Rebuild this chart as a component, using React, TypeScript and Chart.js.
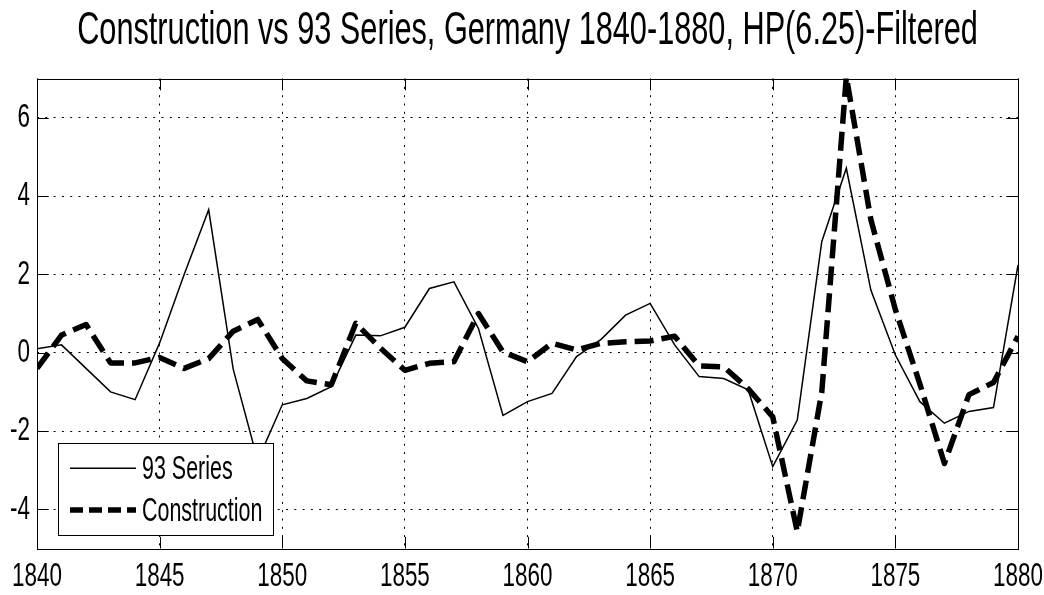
import React, { useEffect, useRef } from 'react';
import { Chart, registerables } from 'chart.js';

Chart.register(...registerables);

const titleText = 'Construction vs 93 Series, Germany 1840-1880, HP(6.25)-Filtered';
const seriesLabels = ['93 Series', 'Construction'];

const years = [
  1840, 1841, 1842, 1843, 1844, 1845, 1846, 1847, 1848, 1849,
  1850, 1851, 1852, 1853, 1854, 1855, 1856, 1857, 1858, 1859,
  1860, 1861, 1862, 1863, 1864, 1865, 1866, 1867, 1868, 1869,
  1870, 1871, 1872, 1873, 1874, 1875, 1876, 1877, 1878, 1879, 1880,
];

const series93 = [
  0.1, 0.2, -0.4, -1.0, -1.2, 0.25, 2.0, 3.65, -0.42, -2.75,
  -1.33, -1.17, -0.87, 0.45, 0.43, 0.65, 1.64, 1.81, 0.62, -1.6,
  -1.25, -1.04, -0.1, 0.34, 0.96, 1.26, 0.2, -0.61, -0.66, -0.95,
  -2.91, -1.72, 2.84, 4.71, 1.6, -0.06, -1.25, -1.8, -1.5, -1.4, 2.24,
];

const construction = [
  -0.4, 0.45, 0.72, -0.26, -0.26, -0.12, -0.4, -0.15, 0.55, 0.85,
  -0.15, -0.72, -0.82, 0.75, 0.12, -0.45, -0.27, -0.23, 1.0, 0.02,
  -0.23, 0.24, 0.07, 0.24, 0.28, 0.3, 0.42, -0.34, -0.36, -0.92,
  -1.64, -4.57, -1.0, 7.05, 3.4, 1.1, -0.8, -2.83, -1.07, -0.76, 0.42,
];

const xTickValues = [1840, 1845, 1850, 1855, 1860, 1865, 1870, 1875, 1880];
const yTickValues = [-4, -2, 0, 2, 4, 6];

const FONT = "'Liberation Sans', Arial, Helvetica, sans-serif";
const SX = 0.66; // horizontal condensation of all text

function condenseText(ctx: any) {
  const origFill = ctx.fillText.bind(ctx);
  const origMeasure = ctx.measureText.bind(ctx);
  ctx.fillText = (text: string, x: number, y: number, maxWidth?: number) => {
    ctx.save();
    ctx.translate(x, y);
    ctx.scale(SX, 1);
    if (maxWidth === undefined || maxWidth === null) origFill(text, 0, 0);
    else origFill(text, 0, 0, maxWidth / SX);
    ctx.restore();
  };
  ctx.measureText = (text: string) => {
    const m = origMeasure(text);
    return {
      width: m.width * SX,
      actualBoundingBoxAscent: m.actualBoundingBoxAscent,
      actualBoundingBoxDescent: m.actualBoundingBoxDescent,
      actualBoundingBoxLeft: m.actualBoundingBoxLeft * SX,
      actualBoundingBoxRight: m.actualBoundingBoxRight * SX,
      fontBoundingBoxAscent: m.fontBoundingBoxAscent,
      fontBoundingBoxDescent: m.fontBoundingBoxDescent,
    };
  };
}

const frameAndLegend = {
  id: 'frameAndLegend',
  afterDraw(chart: any) {
    const ctx = chart.ctx;
    const a = chart.chartArea;
    const xs = chart.scales.x;
    const ys = chart.scales.y;
    const TL = 11.7;
    ctx.save();
    ctx.strokeStyle = '#000';
    ctx.lineWidth = 1;
    ctx.setLineDash([]);
    // box
    ctx.strokeRect(Math.round(a.left) + 0.5, Math.round(a.top) + 0.5, Math.round(a.right - a.left), Math.round(a.bottom - a.top));
    // inward ticks
    ctx.beginPath();
    xTickValues.forEach((v) => {
      const px = Math.round(xs.getPixelForValue(v)) + 0.5;
      ctx.moveTo(px, a.bottom);
      ctx.lineTo(px, a.bottom - TL);
      ctx.moveTo(px, a.top);
      ctx.lineTo(px, a.top + TL);
    });
    yTickValues.forEach((v) => {
      const py = Math.round(ys.getPixelForValue(v)) + 0.5;
      ctx.moveTo(a.left, py);
      ctx.lineTo(a.left + TL, py);
      ctx.moveTo(a.right, py);
      ctx.lineTo(a.right - TL, py);
    });
    ctx.stroke();

    // legend
    const bx = a.left + 20.5;
    const by = a.bottom - 105.2;
    const bw = 215.2;
    const bh = 91.7;
    ctx.fillStyle = '#fff';
    ctx.fillRect(bx, by, bw, bh);
    ctx.strokeStyle = '#000';
    ctx.lineWidth = 1;
    ctx.strokeRect(Math.round(bx) + 0.5, Math.round(by) + 0.5, Math.round(bw), Math.round(bh));
    const rows = [a.bottom - 80.2, a.bottom - 38.5];
    chart.data.datasets.forEach((ds: any, i: number) => {
      const ry = rows[i];
      ctx.save();
      ctx.beginPath();
      ctx.strokeStyle = ds.borderColor;
      ctx.lineWidth = ds.borderWidth;
      ctx.lineCap = 'butt';
      ctx.setLineDash(i === 1 ? [13, 6] : []);
      ctx.moveTo(a.left + 33, ry);
      ctx.lineTo(a.left + 99, ry);
      ctx.stroke();
      ctx.restore();
      ctx.fillStyle = '#000';
      ctx.font = `32.5px ${FONT}`;
      ctx.textAlign = 'left';
      ctx.textBaseline = 'middle';
      ctx.fillText(ds.label, a.left + 105, ry + 2);
    });
    ctx.restore();
  },
};

export default function App() {
  const ref = useRef<HTMLCanvasElement | null>(null);

  useEffect(() => {
    document.body.style.margin = '0';
    const canvas = ref.current;
    if (!canvas) return;
    const ctx = canvas.getContext('2d');
    condenseText(ctx);

    const chart = new Chart(ctx as any, {
      type: 'line',
      data: {
        datasets: [
          {
            label: seriesLabels[0],
            data: years.map((x, i) => ({ x, y: series93[i] })),
            borderColor: '#000',
            borderWidth: 1.5,
            pointRadius: 0,
            tension: 0,
            fill: false,
            order: 1,
          },
          {
            label: seriesLabels[1],
            data: years.map((x, i) => ({ x, y: construction[i] })),
            borderColor: '#000',
            borderWidth: 5.5,
            borderDash: [19, 8],
            borderCapStyle: 'butt',
            borderJoinStyle: 'round',
            pointRadius: 0,
            tension: 0,
            fill: false,
            order: 0,
          },
        ],
      },
      options: {
        responsive: false,
        animation: false,
        events: [],
        layout: { padding: { left: 0, right: 26, top: 0, bottom: 0 } },
        plugins: {
          legend: { display: false },
          tooltip: { enabled: false },
          title: {
            display: true,
            fullSize: false,
            text: titleText,
            color: '#000',
            font: { family: FONT, size: 46.5, weight: 'normal' },
            padding: { top: 3.6, bottom: 19.2 },
          },
        },
        scales: {
          x: {
            type: 'linear',
            min: 1840,
            max: 1880,
            afterBuildTicks: (s: any) => {
              s.ticks = xTickValues.map((v) => ({ value: v }));
            },
            afterFit: (s: any) => {
              s.height = 46.5;
            },
            grid: { color: '#000', lineWidth: 1, drawTicks: false },
            border: { display: false, dash: [2, 6.3] },
            ticks: {
              color: '#000',
              font: { family: FONT, size: 34, lineHeight: 1.67 },
              padding: 0,
              maxRotation: 0,
              autoSkip: false,
              callback: (v: any) => String(v),
            },
          },
          y: {
            type: 'linear',
            min: -5,
            max: 7,
            afterBuildTicks: (s: any) => {
              s.ticks = yTickValues.map((v) => ({ value: v }));
            },
            afterFit: (s: any) => {
              s.width = 37;
            },
            grid: { color: '#000', lineWidth: 1, drawTicks: false },
            border: { display: false, dash: [2, 6.3] },
            ticks: {
              color: '#000',
              font: { family: FONT, size: 34 },
              padding: 7,
              autoSkip: false,
              callback: (v: any) => String(v),
            },
          },
        },
      },
      plugins: [frameAndLegend],
    } as any);

    return () => chart.destroy();
  }, []);

  return (
    <div style={{ position: 'fixed', left: 0, top: 0, width: 1044, height: 595, background: '#fff' }}>
      <canvas ref={ref} width={1044} height={595} style={{ display: 'block', width: 1044, height: 595 }} />
    </div>
  );
}
